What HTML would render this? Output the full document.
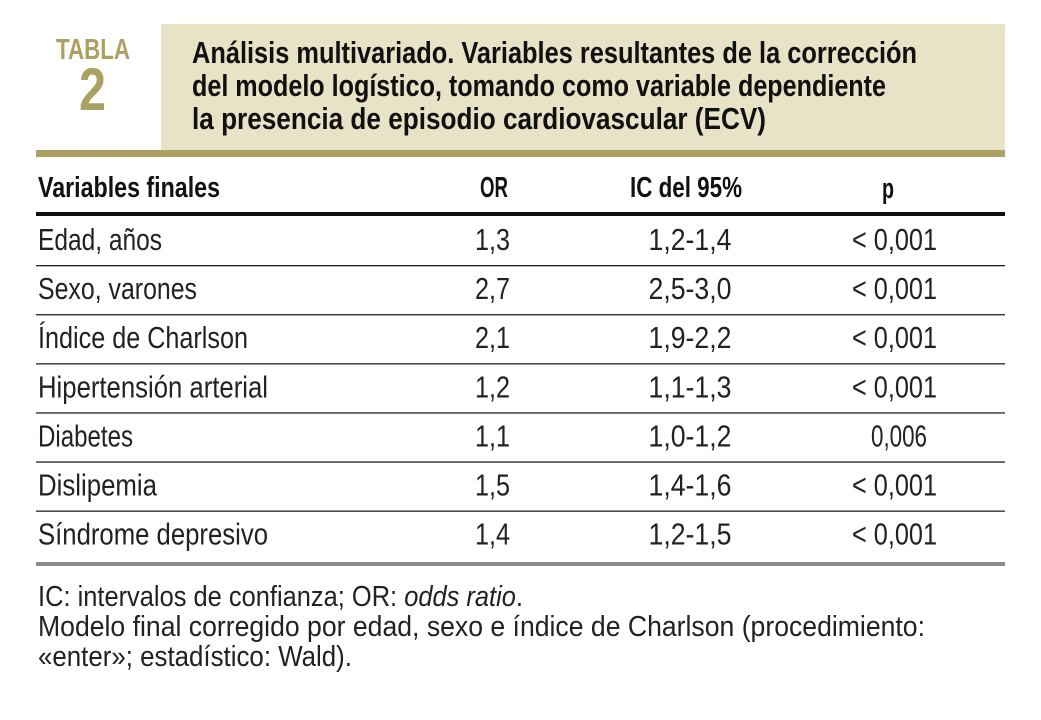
<!DOCTYPE html>
<html><head><meta charset="utf-8"><style>
html,body{margin:0;padding:0;background:#fff;}
svg{display:block;font-family:"Liberation Sans",sans-serif;}
</style></head><body>
<svg width="1041" height="720" viewBox="0 0 1041 720">
<rect x="161" y="24" width="844" height="127" fill="#e8e3c6"/>
<rect x="36" y="150" width="969" height="7" fill="#aaa162"/>
<text x="56" y="59" font-size="29" font-weight="bold" fill="#aaa162" textLength="74" lengthAdjust="spacingAndGlyphs">TABLA</text>
<text x="79" y="110" font-size="60" font-weight="bold" fill="#aaa162" textLength="27" lengthAdjust="spacingAndGlyphs">2</text>
<g font-weight="bold" font-size="31" fill="#111">
<text x="192" y="63" textLength="725" lengthAdjust="spacingAndGlyphs">Análisis multivariado. Variables resultantes de la corrección</text>
<text x="192" y="96" textLength="694" lengthAdjust="spacingAndGlyphs">del modelo logístico, tomando como variable dependiente</text>
<text x="192" y="129" textLength="574" lengthAdjust="spacingAndGlyphs">la presencia de episodio cardiovascular (ECV)</text>
</g>
<g font-weight="bold" font-size="29" fill="#111">
<text x="38" y="197" textLength="182" lengthAdjust="spacingAndGlyphs">Variables finales</text>
<text x="480" y="197" textLength="28" lengthAdjust="spacingAndGlyphs">OR</text>
<text x="630" y="197" textLength="112" lengthAdjust="spacingAndGlyphs">IC del 95%</text>
<text x="882" y="198" textLength="12" lengthAdjust="spacingAndGlyphs">p</text>
</g>
<rect x="36" y="212" width="969" height="4" fill="#111"/>
<g id="rows" font-size="31" fill="#222"></g>
<rect x="36" y="562" width="969" height="4" fill="#8c8c8c"/>
<g font-size="29" fill="#222">
<text x="38" y="606" textLength="485" lengthAdjust="spacingAndGlyphs">IC: intervalos de confianza; OR: <tspan font-style="italic">odds ratio</tspan>.</text>
<text x="38" y="636" textLength="887" lengthAdjust="spacingAndGlyphs">Modelo final corregido por edad, sexo e índice de Charlson (procedimiento:</text>
<text x="38" y="666" textLength="314" lengthAdjust="spacingAndGlyphs">«enter»; estadístico: Wald).</text>
</g>
</svg>
<script>
const variables=["Edad, años","Sexo, varones","Índice de Charlson","Hipertensión arterial","Diabetes","Dislipemia","Síndrome depresivo"];
const orValues=["1,3","2,7","2,1","1,2","1,1","1,5","1,4"];
const ciValues=["1,2-1,4","2,5-3,0","1,9-2,2","1,1-1,3","1,0-1,2","1,4-1,6","1,2-1,5"];
const pValues=["< 0,001","< 0,001","< 0,001","< 0,001","0,006","< 0,001","< 0,001"];
const varWidths=[124,159,210,230,95,119,230];
const NS="http://www.w3.org/2000/svg";
const g=document.getElementById('rows');
function txt(parent,x,y,s,anchor,w){
  const t=document.createElementNS(NS,'text');
  t.setAttribute('x',x);t.setAttribute('y',y);
  if(anchor)t.setAttribute('text-anchor',anchor);
  if(w){t.setAttribute('textLength',w);t.setAttribute('lengthAdjust','spacingAndGlyphs');}
  t.textContent=s;parent.appendChild(t);return t;
}
variables.forEach((v,i)=>{
  const y=250+i*49.1;
  const row=document.createElementNS(NS,'g');
  
  
  g.appendChild(row);
  txt(row,38,y,v,null,varWidths[i]);
  txt(row,475,y,orValues[i],null,35);
  txt(row,690,y,ciValues[i],'middle',83);
  const p=pValues[i];
  if(p.startsWith('<')) txt(row,852,y,p,null,85); else txt(row,871,y,p,null,56);
  if(i<variables.length-1){
    const l=document.createElementNS(NS,'rect');
    l.setAttribute('x',36);l.setAttribute('y',y+15);l.setAttribute('width',969);l.setAttribute('height',1.3);l.setAttribute('fill','#222');
    
    
    row.appendChild(l);
  }
});
</script>
</body></html>
